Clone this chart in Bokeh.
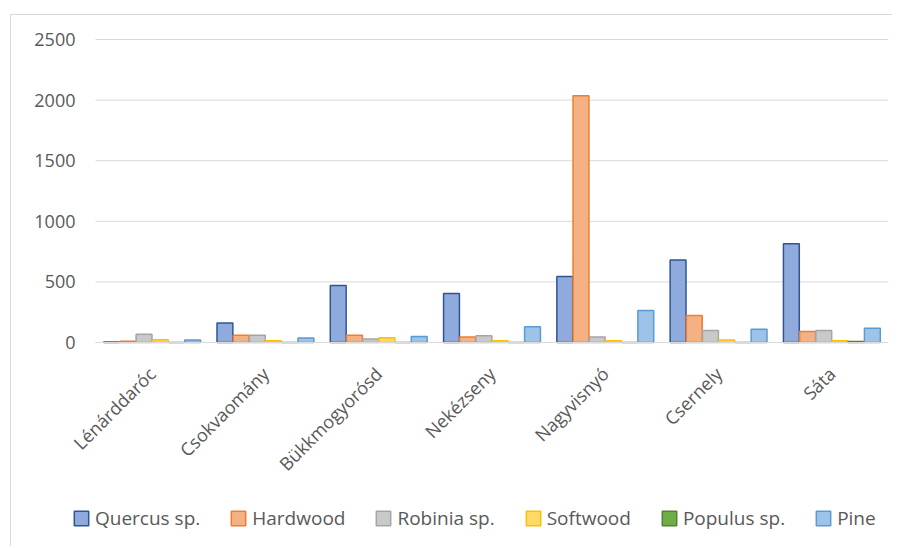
import math
from bokeh.plotting import figure
from bokeh.layouts import column
from bokeh.models import ColumnDataSource, FixedTicker, Legend, LegendItem, Range1d
from bokeh.transform import dodge
from bokeh.embed import file_html
from bokeh.resources import INLINE

towns = ["Lénárddaróc", "Csokvaomány", "Bükkmogyorósd", "Nekézseny", "Nagyvisnyó", "Csernely", "Sáta"]
series = ["Quercus sp.", "Hardwood", "Robinia sp.", "Softwood", "Populus sp.", "Pine"]
quercus = [5, 160, 470, 405, 545, 680, 815]
hardwood = [10, 60, 60, 45, 2035, 222, 90]
robinia = [68, 60, 30, 55, 45, 100, 100]
softwood = [22, 15, 40, 15, 15, 20, 15]
populus = [0, 0, 0, 0, 0, 0, 8]
pine = [20, 38, 50, 130, 265, 110, 118]
y_ticks = [0, 500, 1000, 1500, 2000, 2500]

fills = ["#8faadc", "#f4b183", "#c9c9c9", "#ffd966", "#70ad47", "#9dc3e6"]
lines = ["#2f5597", "#ed7d31", "#a5a5a5", "#ffc000", "#548235", "#5b9bd5"]
values = [quercus, hardwood, robinia, softwood, populus, pine]
FONT = "Open Sans"
TXT = "#595959"

# category centres on a numeric axis (one unit per town)
centres = [i + 0.5 for i in range(len(towns))]
data = {"xc": centres}
for i, v in enumerate(values):
    data["s%d" % i] = v
src = ColumnDataSource(data)

p = figure(x_range=Range1d(-0.7415, len(towns)), y_range=Range1d(-1683, 2698),
           width=881, height=531, output_backend="svg", toolbar_location=None,
           min_border=0, min_border_right=4)
p.outline_line_color = None
p.background_fill_color = "white"
p.border_fill_color = "white"
p.xgrid.visible = False
p.ygrid.visible = False

# horizontal gridlines over the category area only
p.segment(x0=0, x1=len(towns), y0=y_ticks, y1=y_ticks, line_color="#d9d9d9", line_width=1)

bw = 0.143
rends = []
for i in range(6):
    off = (i - 2.5) * bw
    r = p.vbar(x=dodge("xc", off), top="s%d" % i, width=bw * 0.98,
               source=src, fill_color=fills[i], line_color=lines[i], line_width=1.5)
    rends.append(r)

p.yaxis.fixed_location = 0
p.yaxis.ticker = FixedTicker(ticks=y_ticks)
p.yaxis.axis_line_color = None
p.yaxis.major_tick_line_color = None
p.yaxis.minor_tick_line_color = None
p.yaxis.major_label_standoff = 14
p.yaxis.major_label_text_font = FONT
p.yaxis.major_label_text_font_size = "18px"
p.yaxis.major_label_text_color = TXT

p.xaxis.fixed_location = 0
p.xaxis.bounds = (0, len(towns))
p.xaxis.ticker = FixedTicker(ticks=centres)
p.xaxis.major_label_overrides = {c: t for c, t in zip(centres, towns)}
p.xaxis.axis_line_color = "#d9d9d9"
p.xaxis.major_tick_line_color = None
p.xaxis.minor_tick_line_color = None
p.xaxis.major_label_orientation = math.pi / 4
p.xaxis.major_label_standoff = 22
p.xaxis.major_label_text_font = FONT
p.xaxis.major_label_text_font_size = "18px"
p.xaxis.major_label_text_color = TXT

legend = Legend(items=[LegendItem(label=series[i], renderers=[rends[i]]) for i in range(6)],
                orientation="horizontal", location=(61, 15))
legend.label_text_font = FONT
legend.label_text_font_size = "19px"
legend.label_text_color = TXT
legend.glyph_width = 18
legend.glyph_height = 18
legend.label_standoff = 5
legend.spacing = 29
legend.margin = 0
legend.padding = 0
legend.border_line_color = None
legend.background_fill_alpha = 0
p.add_layout(legend, "center")

layout = column(p, spacing=0, margin=(14, 0, 0, 10),
                styles={"border-top": "1px solid #d9d9d9", "border-left": "1px solid #d9d9d9"})

open("out.html", "w").write(file_html(layout, INLINE))
